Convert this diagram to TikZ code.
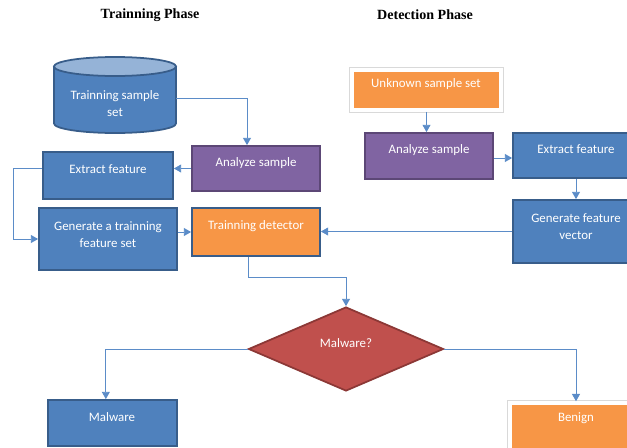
\documentclass[tikz,border=0pt]{standalone}
\usepackage{fontspec}
\setmainfont{Liberation Serif}
\newfontfamily\boxfont{Carlito}
\usetikzlibrary{arrows.meta,shapes.geometric,fit}
\definecolor{boxblue}{HTML}{4F81BD}
\definecolor{edgeblue}{HTML}{385D8A}
\definecolor{boxpurple}{HTML}{8064A2}
\definecolor{edgepurple}{HTML}{5C4776}
\definecolor{boxorange}{HTML}{F79646}
\definecolor{boxred}{HTML}{C0504D}
\definecolor{edgered}{HTML}{8C3836}
\definecolor{linkblue}{HTML}{5B8CC8}
\definecolor{cylend}{HTML}{95B3D7}
\tikzset{
  box/.style={rectangle, inner sep=0pt, line width=1.5pt},
  bluebox/.style={box, fill=boxblue, draw=edgeblue},
  purplebox/.style={box, fill=boxpurple, draw=edgepurple},
  orangebox/.style={box, fill=boxorange, draw=edgeblue},
  lightbox/.style={box, fill=boxorange, draw=white, line width=3pt,
    preaction={draw=black!15, line width=4.4pt}},
  txt/.style={text=white, font=\boxfont\fontsize{11}{14.5}\selectfont, align=center},
  link/.style={draw=linkblue, line width=0.8pt, -{Triangle[length=2.2mm,width=2.4mm]}},
  title/.style={font=\bfseries\fontsize{12}{14}\selectfont},
}

\begin{document}
\begin{tikzpicture}[x=0.03cm, y=-0.03cm]
\useasboundingbox (0,0) rectangle (627,447);
\clip (0,0) rectangle (627,447);

% headings
\node[title] (trainhead) at (150,15) {Trainning Phase};
\node[title] (detecthead) at (425,15) {Detection Phase};

% training phase
\node[inner sep=0pt, fit={(54,57) (176,133)}] (trainset) {};
\draw[fill=boxblue, draw=edgeblue, line width=1.5pt] (54,66.5) -- (54,123.5)
  arc (180:0:61 and 9.5) -- (176,66.5) -- cycle;
\draw[fill=cylend, draw=edgeblue, line width=1.5pt] (115,66.5) ellipse (61 and 9.5);
\node[purplebox, fit={(192,146) (320,191)}] (analyzeT) {};
\node[bluebox, fit={(43,152) (173,199)}] (extractT) {};
\node[bluebox, fit={(39,208) (177,270)}] (genset) {};
\node[orangebox, fit={(192,208) (320,256)}] (detector) {};

% detection phase
\node[lightbox, fit={(352,70) (501,110)}] (unknown) {};
\node[purplebox, fit={(365,133) (493,179)}] (analyzeD) {};
\node[bluebox, fit={(513,133) (639,178)}] (extractD) {};
\node[bluebox, fit={(513,200) (639,263)}] (genvec) {};

% decision
\node[diamond, fill=boxred, draw=edgered, line width=1.5pt, minimum width=5.85cm,
  minimum height=2.52cm, inner sep=0pt] (ismal) at (346,349) {};
\node[bluebox, fit={(48,400) (177,446)}] (malware) {};
\node[lightbox, fit={(510,403) (642,452)}] (benign) {};

% texts
\node[txt] (trainsett) at (115,103.5) {Trainning sample\\set};
\node[txt] (analyzeTt) at (256,163) {Analyze sample};
\node[txt] (extractTt) at (108,169) {Extract feature};
\node[txt] (gensett) at (108,234.5) {Generate a trainning\\feature set};
\node[txt] (detectort) at (256,226) {Trainning detector};
\node[txt] (unknownt) at (426,84) {Unknown sample set};
\node[txt] (analyzeDt) at (429,150) {Analyze sample};
\node[txt] (extractDt) at (576,149) {Extract feature};
\node[txt] (genvect) at (576,226.5) {Generate feature\\vector};
\node[txt] (ismalt) at (346,343) {Malware?};
\node[txt] (malwaret) at (112,417) {Malware};
\node[txt] (benignt) at (576,418) {Benign};

% connectors
\draw[link] ([yshift=-0.09cm]trainset.east) -| ([xshift=-0.27cm]analyzeT.north);
\draw[link] (analyzeT.west) -- (analyzeT.west -| extractT.east);
\draw[link] ([yshift=0.2cm]extractT.west) -- ++(-29,0) |- (genset.west);
\draw[link] (genset.east |- detector.west) -- (detector.west);
\draw[link] ([xshift=-0.24cm]detector.south) -- ++(0,21) -| (ismal.north);
\draw[link] (unknown.south) -- (unknown.south |- analyzeD.north);
\draw[link] ([yshift=-0.06cm]analyzeD.east) -- ([yshift=-0.06cm]analyzeD.east -| extractD.west);
\draw[link] (extractD.south) -- (genvec.north);
\draw[link] (genvec.west) -- (genvec.west -| detector.east);
\draw[link] (ismal.west) -| ([xshift=-0.2cm]malware.north);
\draw[link] (ismal.east) -| (benign.north);
\end{tikzpicture}
\end{document}
